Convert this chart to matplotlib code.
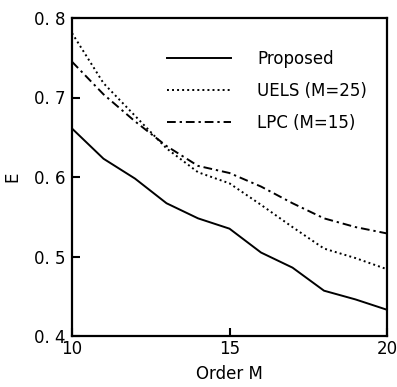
import matplotlib
matplotlib.use("Agg")
import matplotlib.pyplot as plt

order = [10, 11, 12, 13, 14, 15, 16, 17, 18, 19, 20]
proposed = [0.661, 0.623, 0.598, 0.567, 0.548, 0.535, 0.505, 0.486, 0.457, 0.446, 0.433]
uels = [0.781, 0.718, 0.677, 0.636, 0.606, 0.592, 0.565, 0.537, 0.510, 0.498, 0.484]
lpc = [0.745, 0.704, 0.670, 0.639, 0.614, 0.605, 0.588, 0.567, 0.548, 0.537, 0.529]

yticks = [0.4, 0.5, 0.6, 0.7, 0.8]
yticklabels = ["0. 4", "0. 5", "0. 6", "0. 7", "0. 8"]
xticks = [10, 15, 20]
xticklabels = ["10", "15", "20"]

plt.rcParams['font.family'] = ['DejaVu Sans']

fig = plt.figure(figsize=(3.97, 3.87), dpi=100)
ax = fig.add_axes([72/397, 1-336/387, 315/397, 318/387])

ax.plot(order, proposed, color='black', lw=1.4, linestyle='-', label='Proposed')
ax.plot(order, uels, color='black', lw=1.4, linestyle=(0, (1, 1.6)), label='UELS (M=25)')
ax.plot(order, lpc, color='black', lw=1.4, linestyle=(0, (4.5, 2, 1.2, 2)), label='LPC (M=15)')

ax.set_xlim(10, 20)
ax.set_ylim(0.4, 0.8)
ax.set_xticks(xticks)
ax.set_xticklabels(xticklabels, fontsize=12)
ax.set_yticks(yticks)
ax.set_yticklabels(yticklabels, fontsize=12)
ax.tick_params(direction='in', length=6, width=1.5)
ax.tick_params(axis='y', pad=5)
ax.tick_params(axis='x', pad=3)
for s in ax.spines.values():
    s.set_linewidth(1.6)

ax.set_xlabel('Order M', fontsize=12, labelpad=5)
ax.set_ylabel('E', fontsize=12, labelpad=9)

leg = ax.legend(loc='upper left', bbox_to_anchor=(0.254, 0.948), frameon=False,
                fontsize=12, handlelength=3.84, handletextpad=1.56, labelspacing=0.86)

fig.savefig('out.png', dpi=100)
